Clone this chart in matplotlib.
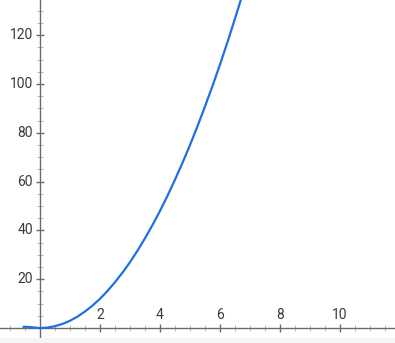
import matplotlib
matplotlib.use("Agg")
import matplotlib.pyplot as plt
from matplotlib.patches import Rectangle
from matplotlib.ticker import MultipleLocator

# curve values
xs = [-0.55, -0.5, -0.25, 0, 0.25, 0.5, 0.75, 1, 1.25, 1.5, 1.75, 2, 2.25, 2.5,
      2.75, 3, 3.25, 3.5, 3.75, 4, 4.25, 4.5, 4.75, 5, 5.25, 5.5, 5.75, 6,
      6.25, 6.5, 6.75]
ys = [0.5, 0.55, 0.35, 0, 0.2, 0.8, 1.7, 3, 4.7, 6.8, 9.2, 12, 15.2, 18.8,
      22.7, 27, 31.7, 36.8, 42.2, 48, 54.2, 60.8, 67.7, 75, 82.7, 90.8, 99.2, 108,
      117.2, 126.8, 136.7]

x_ticks = [2, 4, 6, 8, 10]
y_ticks = [20, 40, 60, 80, 100, 120]

axis_col = '#6b6b6b'
text_col = '#3a3a3a'
plt.rcParams['font.family'] = ['Roboto', 'DejaVu Sans']

fig = plt.figure(figsize=(3.95, 3.43), dpi=100)
ax = fig.add_axes([0, 0, 1, 1])
ax.set_xlim(-1.33, 11.83)
ax.set_ylim(-6.1, 134.4)
ax.patch.set_alpha(0)

# light band along the bottom edge
fig.patches.append(Rectangle((0, 0), 1, 5 / 343, transform=fig.transFigure,
                             facecolor='#f5f5f5', edgecolor='none', zorder=0))

for s in ['top', 'right']:
    ax.spines[s].set_visible(False)
ax.spines['left'].set_position(('data', 0))
ax.spines['bottom'].set_position(('data', 0))
for s in ['left', 'bottom']:
    ax.spines[s].set_color(axis_col)
    ax.spines[s].set_linewidth(1.0)

ax.set_xticks(x_ticks)
ax.set_yticks(y_ticks)
ax.xaxis.set_minor_locator(MultipleLocator(0.5))
ax.yaxis.set_minor_locator(MultipleLocator(5))
ax.tick_params(which='major', direction='inout', length=6, width=1.0,
               color=axis_col, labelbottom=False, labelleft=False)
ax.tick_params(which='minor', direction='inout', length=5, width=0.6,
               color='#b0b0b0')

for t in x_ticks:
    ax.text(t, 0, str(t), transform=ax.transData, ha='center', va='bottom',
            fontsize=10, color=text_col,
            bbox=None).set_transform(
        ax.transData + matplotlib.transforms.ScaledTranslation(0, 6 / 100, fig.dpi_scale_trans))
for t in y_ticks:
    ax.text(0, t, str(t), ha='right', va='center', fontsize=10, color=text_col,
            transform=ax.transData + matplotlib.transforms.ScaledTranslation(-7 / 100, 0, fig.dpi_scale_trans))

ax.plot(xs, ys, color='#1f6fe3', linewidth=1.6, solid_capstyle='round', zorder=5)

fig.savefig('out.png', dpi=100)
